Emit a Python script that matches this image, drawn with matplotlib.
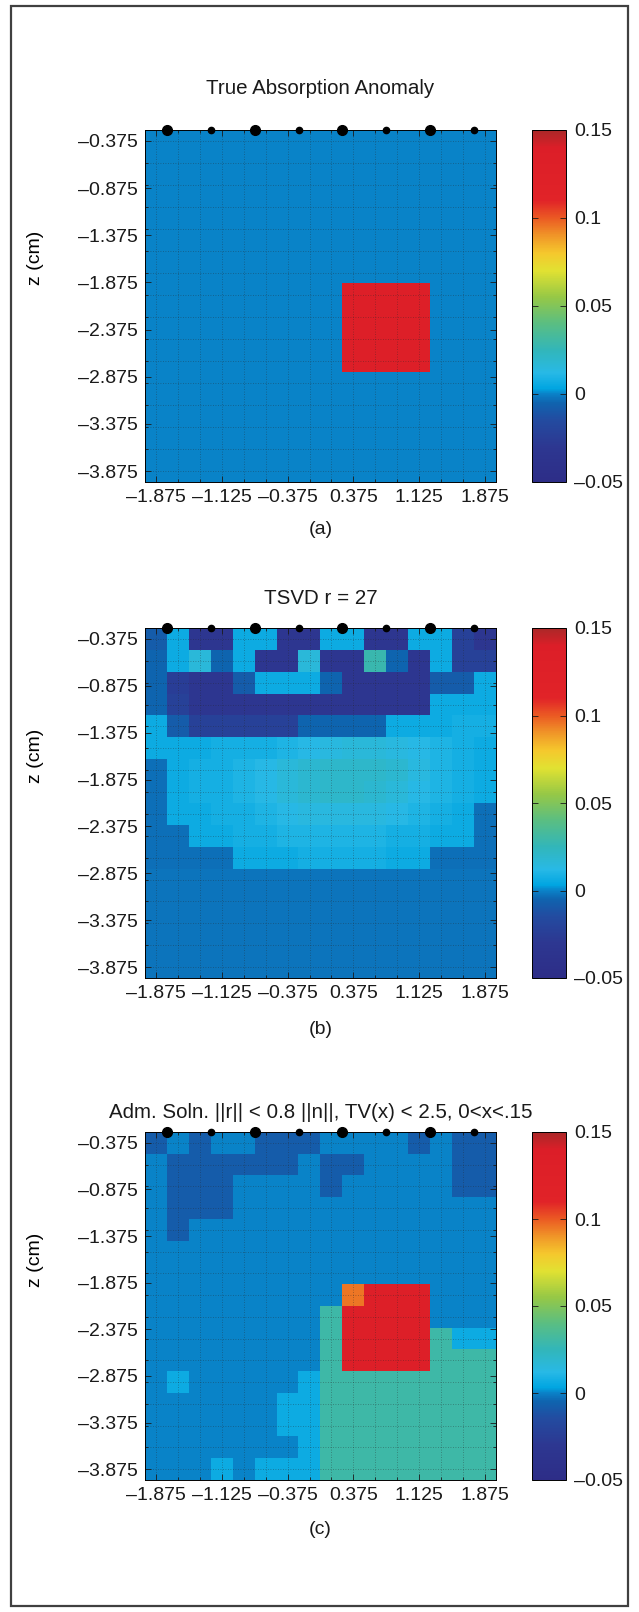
import numpy as np
import matplotlib.pyplot as plt
from matplotlib.colors import LinearSegmentedColormap
from matplotlib.patches import Rectangle

plt.rcParams['font.family'] = ['Liberation Sans', 'DejaVu Sans']

# grid of the reconstruction (cell centres, cm)
x_centers = np.linspace(-1.875, 1.875, 16)
z_centers = np.linspace(-0.375, -3.875, 16)
x_ticks = [-1.875, -1.125, -0.375, 0.375, 1.125, 1.875]
z_ticks = [-0.375, -0.875, -1.375, -1.875, -2.375, -2.875, -3.375, -3.875]
cbar_ticks = [-0.05, 0, 0.05, 0.1, 0.15]
cbar_labels = ['\u20130.05', '0', '0.05', '0.1', '0.15']
sources_x = [-1.75, -0.75, 0.25, 1.25]
detectors_x = [-1.25, -0.25, 0.75, 1.75]

titles = ['True Absorption Anomaly', 'TSVD r = 27',
          'Adm. Soln. ||r|| < 0.8 ||n||, TV(x) < 2.5, 0<x<.15']
captions = ['(a)', '(b)', '(c)']

# absorption values, in units of 1e-3
true_anomaly = [
    [0, 0, 0, 0, 0, 0, 0, 0, 0, 0, 0, 0, 0, 0, 0, 0],
    [0, 0, 0, 0, 0, 0, 0, 0, 0, 0, 0, 0, 0, 0, 0, 0],
    [0, 0, 0, 0, 0, 0, 0, 0, 0, 0, 0, 0, 0, 0, 0, 0],
    [0, 0, 0, 0, 0, 0, 0, 0, 0, 0, 0, 0, 0, 0, 0, 0],
    [0, 0, 0, 0, 0, 0, 0, 0, 0, 0, 0, 0, 0, 0, 0, 0],
    [0, 0, 0, 0, 0, 0, 0, 0, 0, 0, 0, 0, 0, 0, 0, 0],
    [0, 0, 0, 0, 0, 0, 0, 0, 0, 0, 0, 0, 0, 0, 0, 0],
    [0, 0, 0, 0, 0, 0, 0, 0, 0, 130, 130, 130, 130, 0, 0, 0],
    [0, 0, 0, 0, 0, 0, 0, 0, 0, 130, 130, 130, 130, 0, 0, 0],
    [0, 0, 0, 0, 0, 0, 0, 0, 0, 130, 130, 130, 130, 0, 0, 0],
    [0, 0, 0, 0, 0, 0, 0, 0, 0, 130, 130, 130, 130, 0, 0, 0],
    [0, 0, 0, 0, 0, 0, 0, 0, 0, 0, 0, 0, 0, 0, 0, 0],
    [0, 0, 0, 0, 0, 0, 0, 0, 0, 0, 0, 0, 0, 0, 0, 0],
    [0, 0, 0, 0, 0, 0, 0, 0, 0, 0, 0, 0, 0, 0, 0, 0],
    [0, 0, 0, 0, 0, 0, 0, 0, 0, 0, 0, 0, 0, 0, 0, 0],
    [0, 0, 0, 0, 0, 0, 0, 0, 0, 0, 0, 0, 0, 0, 0, 0],
]

tsvd_r27 = [
    [-8, 6, -30, -30, 6, 6, -30, -30, 6, 6, -30, -30, 6, 6, -22, -30],
    [-5, 6, 16, -5, 6, -30, -30, 16, -30, -30, 28, -5, -30, 6, -22, -22],
    [-5, -25, -30, -30, -8, 6, 6, 6, -5, -30, -30, -30, -30, -8, -8, 6],
    [-5, -22, -30, -30, -30, -30, -30, -30, -30, -30, -30, -30, -30, 6, 6, 6],
    [6, -8, -22, -22, -22, -22, -22, -5, -5, -5, -5, 6, 6, 6, 8, 8],
    [6, 6, 6, 8, 8, 8, 10, 12, 14, 16, 16, 14, 12, 10, 8, 6],
    [-3, 6, 8, 8, 10, 12, 16, 18, 20, 20, 20, 18, 14, 10, 8, 6],
    [-3, 6, 8, 8, 10, 12, 16, 18, 20, 20, 18, 16, 12, 10, 8, 6],
    [-3, 6, 6, 8, 8, 10, 12, 14, 14, 14, 14, 12, 10, 8, 6, -3],
    [-3, -3, 6, 6, 8, 8, 10, 10, 10, 10, 10, 8, 8, 6, 6, -3],
    [-3, -3, -3, -3, 6, 6, 6, 8, 8, 8, 8, 6, 6, -3, -3, -3],
    [-2, -2, -2, -2, -2, -2, -2, -2, -2, -2, -2, -2, -2, -2, -2, -2],
    [-2, -2, -2, -2, -2, -2, -2, -2, -2, -2, -2, -2, -2, -2, -2, -2],
    [-2, -2, -2, -2, -2, -2, -2, -2, -2, -2, -2, -2, -2, -2, -2, -2],
    [-2, -2, -2, -2, -2, -2, -2, -2, -2, -2, -2, -2, -2, -2, -2, -2],
    [-2, -2, -2, -2, -2, -2, -2, -2, -2, -2, -2, -2, -2, -2, -2, -2],
]

admissible = [
    [-8, 0, -8, 0, 0, -8, -8, -8, 0, 0, 0, 0, -8, 0, -8, -8],
    [0, -8, -8, -8, -8, -8, -8, 0, -8, -8, 0, 0, 0, 0, -8, -8],
    [0, -8, -8, -8, 0, 0, 0, 0, -8, 0, 0, 0, 0, 0, -8, -8],
    [0, -8, -8, -8, 0, 0, 0, 0, 0, 0, 0, 0, 0, 0, 0, 0],
    [0, -8, 0, 0, 0, 0, 0, 0, 0, 0, 0, 0, 0, 0, 0, 0],
    [0, 0, 0, 0, 0, 0, 0, 0, 0, 0, 0, 0, 0, 0, 0, 0],
    [0, 0, 0, 0, 0, 0, 0, 0, 0, 0, 0, 0, 0, 0, 0, 0],
    [0, 0, 0, 0, 0, 0, 0, 0, 0, 95, 130, 130, 130, 0, 0, 0],
    [0, 0, 0, 0, 0, 0, 0, 0, 30, 130, 130, 130, 130, 0, 0, 0],
    [0, 0, 0, 0, 0, 0, 0, 0, 30, 130, 130, 130, 130, 30, 6, 6],
    [0, 0, 0, 0, 0, 0, 0, 0, 30, 130, 130, 130, 130, 30, 30, 30],
    [0, 6, 0, 0, 0, 0, 0, 6, 30, 30, 30, 30, 30, 30, 30, 30],
    [0, 0, 0, 0, 0, 0, 6, 6, 30, 30, 30, 30, 30, 30, 30, 30],
    [0, 0, 0, 0, 0, 0, 6, 6, 30, 30, 30, 30, 30, 30, 30, 30],
    [0, 0, 0, 0, 0, 0, 0, 6, 30, 30, 30, 30, 30, 30, 30, 30],
    [0, 0, 0, 6, 0, 6, 6, 6, 30, 30, 30, 30, 30, 30, 30, 30],
]

panels = [true_anomaly, tsvd_r27, admissible]

# jet-like map with a sharp step at zero
cmap_nodes = [
    (0.000, (45, 45, 135)), (0.100, (45, 55, 145)), (0.175, (35, 75, 160)),
    (0.225, (15, 100, 175)), (0.250, (10, 130, 200)), (0.265, (0, 165, 225)),
    (0.310, (40, 185, 230)), (0.375, (50, 182, 185)), (0.450, (90, 190, 130)),
    (0.525, (150, 200, 70)), (0.600, (225, 225, 50)), (0.650, (245, 200, 45)),
    (0.700, (240, 150, 40)), (0.750, (235, 90, 35)), (0.800, (225, 35, 40)),
    (0.950, (220, 30, 40)), (1.000, (170, 40, 40)),
]
cmap = LinearSegmentedColormap.from_list(
    'anom', [(p, tuple(c / 255 for c in rgb)) for p, rgb in cmap_nodes], N=512)

W, H = 639, 1612
fig = plt.figure(figsize=(W / 100, H / 100), dpi=100)

# pixel layout: (axes top, axes bottom, title y, caption y)
layout = [(130, 482, 89, 530), (628, 978, 599, 1030), (1132, 1480, 1113, 1529)]
ax_left, ax_right = 145, 496
cb_left, cb_right = 532, 566
fs = 14

dx = x_centers[1] - x_centers[0]
dz = z_centers[0] - z_centers[1]
extent = [x_centers[0] - dx / 2, x_centers[-1] + dx / 2,
          z_centers[-1] - dz / 2, z_centers[0] + dz / 2]


def fmt(v):
    return f'{v:.3f}'.replace('-', '\u2013')


for data, title, caption, (top, bot, ty, cy) in zip(panels, titles, captions, layout):
    ax = fig.add_axes([ax_left / W, 1 - bot / H, (ax_right - ax_left) / W, (bot - top) / H])
    vals = np.array(data) / 1000.0
    im = ax.imshow(vals, cmap=cmap, vmin=-0.05, vmax=0.15, extent=extent,
                   aspect='auto', interpolation='nearest', origin='upper')

    for xc in x_centers:
        ax.axvline(xc, ls=(0, (1, 2)), lw=0.6, color='0.15', alpha=0.45, zorder=2)
    for zc in z_centers:
        ax.axhline(zc, ls=(0, (1, 2)), lw=0.6, color='0.15', alpha=0.45, zorder=2)

    ax.set_xticks(x_ticks)
    ax.set_xticklabels([fmt(v) for v in x_ticks])
    ax.set_xticks(x_centers, minor=True)
    ax.set_yticks(z_ticks)
    ax.set_yticklabels([fmt(v) for v in z_ticks])
    ax.set_yticks(z_centers, minor=True)
    ax.tick_params(which='both', direction='in', top=True, right=True, width=0.6,
                   labelsize=fs, pad=5, colors='0.1')
    ax.tick_params(which='major', length=4)
    ax.tick_params(which='minor', length=2.5)
    ax.set_xlim(extent[0], extent[1])
    ax.set_ylim(extent[2], extent[3])
    for sp in ax.spines.values():
        sp.set_linewidth(0.7)

    ax.set_ylabel('z (cm)', fontsize=fs)
    ax.yaxis.set_label_coords((44 - ax_left) / (ax_right - ax_left), 1 - 128 / (bot - top))

    # sources (large) and detectors (small) along the surface
    ax.plot(sources_x, [extent[3]] * len(sources_x), 'o', ms=7, color='k',
            clip_on=False, zorder=6)
    ax.plot(detectors_x, [extent[3]] * len(detectors_x), 'o', ms=4.5, color='k',
            clip_on=False, zorder=6)

    fig.text((ax_left + ax_right) / 2 / W, 1 - ty / H, title, ha='center', va='center',
             fontsize=14.8, color='0.1')
    fig.text((ax_left + ax_right) / 2 / W, 1 - cy / H, caption, ha='center', va='center',
             fontsize=fs, color='0.1')

    cax = fig.add_axes([cb_left / W, 1 - bot / H, (cb_right - cb_left) / W, (bot - top) / H])
    cb = fig.colorbar(im, cax=cax, ticks=cbar_ticks)
    cb.ax.set_yticklabels(cbar_labels)
    cb.ax.tick_params(direction='in', left=True, right=True, length=4, width=0.6,
                      labelsize=fs, pad=6, colors='0.1')
    cb.outline.set_linewidth(0.7)

fig.add_artist(Rectangle((11 / W, 6 / H), (628 - 11) / W, (1606 - 6) / H,
                         transform=fig.transFigure, fill=False, lw=1.6,
                         edgecolor='0.25'))

fig.savefig('out.png', dpi=100)
